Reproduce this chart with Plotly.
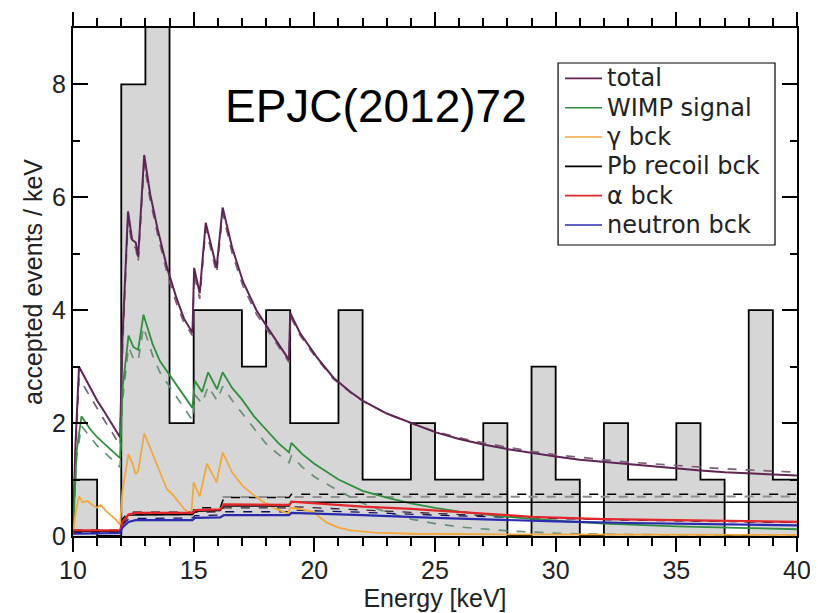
import plotly.graph_objects as go

# ---------------- data ----------------
bin_edges = list(range(10, 41))
bin_counts = [1, 0, 8, 9.5, 2, 4, 4, 3, 4, 2, 2, 4, 1, 1, 2, 1, 1, 2, 0, 3, 1, 0, 2, 1, 1, 2, 1, 0, 4, 1]

total_x = [10.0, 10.1, 10.25, 10.5, 10.8, 11.0, 11.3, 11.6, 11.95, 12.05, 12.28, 12.45, 12.6, 12.7, 12.95,
           13.2, 13.5, 13.9, 14.3, 14.6, 14.95, 15.02, 15.25, 15.5, 15.95, 16.2, 16.6, 17.05, 17.6, 18.05,
           18.5, 18.95, 19.0, 19.4, 20.1, 20.8, 21.5, 22.0, 23.0, 24.0, 25.0, 26.0, 27.0, 28.0, 29.0, 30.0,
           31.0, 32.0, 33.0, 34.0, 35.0, 36.0, 37.0, 38.0, 39.0, 40.0]
total_y = [0.1, 1.6, 3.0, 2.8, 2.55, 2.4, 2.2, 2.0, 1.75, 3.5, 5.75, 5.25, 5.2, 4.95, 6.75,
           6.05, 5.45, 4.75, 4.2, 3.85, 3.6, 4.75, 4.3, 5.55, 4.75, 5.82, 5.1, 4.5, 4.0, 3.7,
           3.4, 3.12, 3.95, 3.6, 3.17, 2.8, 2.55, 2.4, 2.17, 2.0, 1.84, 1.72, 1.62, 1.54, 1.47, 1.41,
           1.35, 1.31, 1.27, 1.23, 1.19, 1.16, 1.13, 1.11, 1.09, 1.07]
total_dash_y = [0.1, 1.4, 2.8, 2.62, 2.4, 2.25, 2.05, 1.85, 1.6, 3.3, 5.6, 5.15, 5.1, 4.85, 6.6,
                5.95, 5.35, 4.65, 4.1, 3.78, 3.55, 4.65, 4.2, 5.45, 4.65, 5.72, 5.0, 4.42, 3.93, 3.65,
                3.36, 3.08, 3.9, 3.56, 3.14, 2.78, 2.54, 2.39, 2.17, 2.0, 1.85, 1.74, 1.65, 1.57, 1.5, 1.44,
                1.39, 1.35, 1.31, 1.28, 1.24, 1.21, 1.19, 1.17, 1.15, 1.13]

wimp_x = [10.0, 10.15, 10.35, 10.7, 11.0, 11.5, 11.95, 12.05, 12.3, 12.5, 12.7, 12.92, 13.3, 13.6, 14.0,
          14.5, 14.95, 15.05, 15.35, 15.6, 15.97, 16.2, 16.6, 17.0, 17.5, 17.97, 18.5, 18.95, 19.05, 19.5,
          20.0, 21.0, 22.0, 23.0, 24.0, 25.0, 26.0, 28.0, 30.0, 32.0, 35.0, 38.0, 40.0]
wimp_y = [0.05, 1.5, 2.12, 1.9, 1.75, 1.55, 1.38, 2.6, 3.55, 3.35, 3.3, 3.92, 3.4, 3.1, 2.85,
          2.55, 2.27, 2.75, 2.55, 2.9, 2.6, 2.9, 2.62, 2.42, 2.12, 1.9, 1.65, 1.48, 1.65, 1.45,
          1.28, 1.0, 0.8, 0.68, 0.58, 0.5, 0.43, 0.34, 0.27, 0.22, 0.17, 0.14, 0.12]
wimp_dash_y = [0.05, 1.4, 1.95, 1.75, 1.6, 1.4, 1.22, 2.4, 3.35, 3.15, 3.1, 3.7, 3.2, 2.9, 2.65,
               2.35, 2.05, 2.5, 2.35, 2.65, 2.4, 2.65, 2.4, 2.18, 1.9, 1.65, 1.45, 1.3, 1.42, 1.22,
               1.05, 0.8, 0.58, 0.42, 0.3, 0.22, 0.16, 0.09, 0.05, 0.03, 0.02, 0.02, 0.02]

gamma_x = [10.0, 10.12, 10.25, 10.4, 10.6, 10.8, 11.0, 11.15, 11.35, 11.6, 11.8, 11.95, 12.05, 12.3, 12.45,
           12.6, 12.7, 12.95, 13.2, 13.5, 13.7, 13.9, 14.1, 14.3, 14.6, 14.9, 15.0, 15.25, 15.55, 15.95,
           16.2, 16.6, 17.05, 17.5, 17.9, 18.4, 18.9, 19.0, 19.5, 20.0, 20.2, 20.5, 21.0, 21.5, 22.5,
           24.0, 28.0, 40.0]
gamma_y = [0.05, 0.45, 0.7, 0.6, 0.62, 0.55, 0.5, 0.55, 0.45, 0.35, 0.28, 0.2, 0.8, 1.45, 1.3,
           1.1, 1.15, 1.82, 1.55, 1.25, 1.0, 0.82, 0.75, 0.64, 0.48, 0.38, 0.95, 0.7, 1.28, 0.95,
           1.48, 1.12, 0.88, 0.72, 0.6, 0.48, 0.4, 0.5, 0.47, 0.42, 0.34, 0.24, 0.15, 0.1, 0.06,
           0.04, 0.03, 0.02]

pb_x = [10.0, 11.95, 12.05, 12.3, 14.95, 15.05, 16.1, 16.25, 18.95, 19.05, 40.0]
pb_y = [0.08, 0.08, 0.25, 0.37, 0.38, 0.44, 0.45, 0.53, 0.53, 0.6, 0.6]
pb_dash_y = [0.1, 0.1, 0.3, 0.42, 0.42, 0.5, 0.5, 0.68, 0.68, 0.74, 0.74]
grey_dash_x = [16.2, 40.0]
grey_dash_y = [0.69, 0.70]

alpha_x = [10.0, 11.95, 12.05, 12.3, 12.6, 14.95, 15.05, 16.1, 16.25, 18.95, 19.05, 20.0, 22.0, 24.0,
           26.0, 28.0, 29.0, 32.0, 35.0, 38.0, 40.0]
alpha_y = [0.1, 0.1, 0.25, 0.38, 0.41, 0.41, 0.46, 0.47, 0.56, 0.55, 0.61, 0.58, 0.52, 0.48,
           0.43, 0.37, 0.34, 0.3, 0.28, 0.26, 0.25]
alpha_dash_y = [0.08, 0.08, 0.22, 0.35, 0.38, 0.38, 0.42, 0.43, 0.5, 0.5, 0.52, 0.5, 0.46, 0.42,
                0.38, 0.35, 0.33, 0.3, 0.27, 0.25, 0.24]

neutron_x = [10.0, 11.95, 12.05, 12.3, 12.6, 14.95, 15.05, 16.1, 16.25, 18.95, 19.05, 20.0, 22.0, 25.0,
             28.0, 30.0, 33.0, 36.0, 40.0]
neutron_y = [0.04, 0.05, 0.15, 0.25, 0.28, 0.28, 0.32, 0.33, 0.37, 0.37, 0.41, 0.4, 0.37, 0.32,
             0.28, 0.26, 0.23, 0.21, 0.19]
neutron_dash_y = [0.06, 0.07, 0.2, 0.3, 0.31, 0.32, 0.36, 0.37, 0.43, 0.43, 0.46, 0.45, 0.42, 0.37,
                  0.33, 0.31, 0.28, 0.26, 0.24]

legend_names = ["total", "WIMP signal", "γ bck", "Pb recoil bck", "α bck", "neutron bck"]
x_ticks = [10, 15, 20, 25, 30, 35, 40]
y_ticks = [0, 2, 4, 6, 8]

# ---------------- figure ----------------
FONT = "Liberation Sans, Arial, Helvetica, sans-serif"
LEG_FONT = "DejaVu Sans, sans-serif"
c_total, c_wimp, c_gamma, c_pb, c_alpha, c_neutron = "#5e2552", "#2f8f3f", "#f2a93b", "#000000", "#e3262b", "#2b2bb0"
legend_colors = [c_total, c_wimp, c_gamma, c_pb, c_alpha, c_neutron]

fig = go.Figure()

# histogram of accepted events (step outline, grey fill)
hx = bin_edges[:-1] + [bin_edges[-1]]
hy = bin_counts + [bin_counts[-1]]
fig.add_trace(go.Scatter(x=hx, y=hy, mode="lines", line=dict(shape="hv", color="black", width=1.8),
                         fill="tozeroy", fillcolor="#d6d6d6", showlegend=False, hoverinfo="skip",
                         name="accepted events"))

def line(x, y, color, name=None, dash="solid", width=1.8):
    fig.add_trace(go.Scatter(x=x, y=y, mode="lines", name=name,
                             line=dict(color=color, width=width, dash=dash), showlegend=False))

# dashed (second fit) curves
line(grey_dash_x, grey_dash_y, "#8f8f8f", dash="dash", width=2)
line(pb_x, pb_dash_y, "black", dash="dash", width=1.5)
line(total_x, total_dash_y, "#7d6077", dash="dash", width=1.7)
line(wimp_x, wimp_dash_y, "#6a8f74", dash="dash", width=1.7)
line(alpha_x, alpha_dash_y, "#3a2030", dash="dash", width=1.3)
line(neutron_x, neutron_dash_y, "#101060", dash="dash", width=1.3)

# solid curves
line(total_x, total_y, c_total, legend_names[0], width=2)
line(wimp_x, wimp_y, c_wimp, legend_names[1])
line(gamma_x, gamma_y, c_gamma, legend_names[2])
line(pb_x, pb_y, c_pb, legend_names[3], width=1.5)
line(alpha_x, alpha_y, c_alpha, legend_names[4], width=2.2)
line(neutron_x, neutron_y, c_neutron, legend_names[5], width=2.2)

fig.add_annotation(x=16.2, y=7.62, xref="x", yref="y", text="EPJC(2012)72", showarrow=False,
                   xanchor="left", yanchor="middle", font=dict(family=FONT, size=46, color="black"))

# legend box (drawn as a framed list of entries)
box_x0, box_x1, box_y0, box_y1 = 0.670, 0.9696, 0.5728, 0.9311
fig.add_shape(type="rect", xref="paper", yref="paper", x0=box_x0, x1=box_x1, y0=box_y0, y1=box_y1,
              line=dict(color="black", width=1.2), fillcolor="white", layer="above")
row_top, row_step = 0.9008, 0.0577
for i, (name, col) in enumerate(zip(legend_names, legend_colors)):
    yy = row_top - i * row_step
    fig.add_shape(type="line", xref="paper", yref="paper", x0=0.6796, x1=0.7307, y0=yy, y1=yy,
                  line=dict(color=col, width=1.6), layer="above")
    fig.add_annotation(x=0.7348, y=yy, xref="paper", yref="paper", text=name, showarrow=False,
                       xanchor="left", yanchor="middle",
                       font=dict(family=LEG_FONT, size=24, color="#222"))

fig.update_layout(
    width=810, height=605,
    margin=dict(l=65, r=21, t=20, b=77),
    paper_bgcolor="white", plot_bgcolor="white",
    font=dict(family=FONT, size=25, color="#222"),
    showlegend=False,
)
fig.update_xaxes(range=[10, 40], tickvals=x_ticks, ticks="outside", ticklen=14, tickwidth=1.5,
                 tickcolor="black", showline=True, linecolor="black", linewidth=2, mirror="ticks",
                 showgrid=False, zeroline=False, automargin=False, ticklabelstandoff=-3,
                 minor=dict(dtick=1, ticks="outside", ticklen=8, tickwidth=1.5, tickcolor="black"),
                 title=dict(text="Energy [keV]", font=dict(size=25), standoff=0),
                 tickfont=dict(size=25))
fig.update_yaxes(range=[0, 9], tickvals=y_ticks, ticks="inside", ticklen=15, tickwidth=1.5,
                 tickcolor="black", showline=True, linecolor="black", linewidth=2, mirror="ticks",
                 showgrid=False, zeroline=False, ticklabelstandoff=0, automargin=False,
                 minor=dict(dtick=1, ticks="inside", ticklen=7, tickwidth=1.5, tickcolor="black"),
                 title=dict(text="accepted events / keV", font=dict(size=25), standoff=2),
                 tickfont=dict(size=25))

fig.write_html("out.html")
